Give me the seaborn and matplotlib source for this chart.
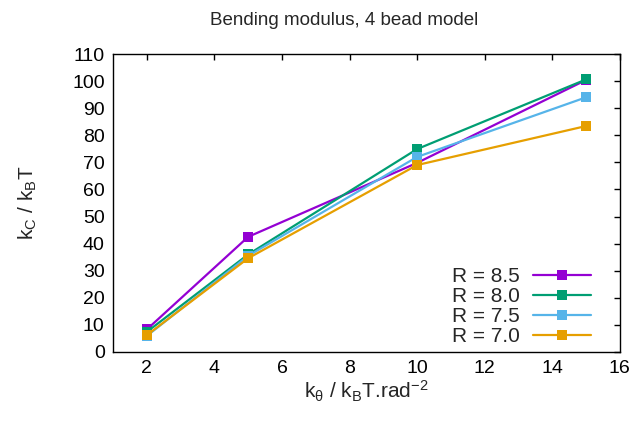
import matplotlib
matplotlib.use('Agg')
import matplotlib.pyplot as plt
import seaborn as sns
import pandas as pd

# Data
k_theta = [2, 5, 10, 15]
kc_85 = [8.3, 42.5, 69.8, 100.4]
kc_80 = [7.4, 36.0, 74.9, 100.6]
kc_75 = [5.9, 35.5, 72.0, 94.0]
kc_70 = [6.2, 34.6, 69.0, 83.4]
labels = ['R = 8.5', 'R = 8.0', 'R = 7.5', 'R = 7.0']
colors = ['#9400d3', '#009e73', '#56b4e9', '#e69f00']

df = pd.DataFrame({
    'k_theta': k_theta * 4,
    'kc': kc_85 + kc_80 + kc_75 + kc_70,
    'R': [lab for lab in labels for _ in k_theta],
})

sns.set_style('white')
plt.rcParams['font.family'] = ['Liberation Sans', 'DejaVu Sans']
plt.rcParams['mathtext.fontset'] = 'custom'
plt.rcParams['mathtext.rm'] = 'Liberation Sans'
plt.rcParams['mathtext.it'] = 'Liberation Sans'

fig = plt.figure(figsize=(6.35, 4.22), dpi=100)
ax = fig.add_axes([0.178, 0.166, 0.798, 0.706])

sns.lineplot(data=df, x='k_theta', y='kc', hue='R', hue_order=labels,
             palette=colors, marker='s', markersize=6.5, markeredgewidth=0,
             linewidth=1.6, ax=ax)

ax.set_xlim(1, 16)
ax.set_ylim(0, 110)
ax.set_xticks(range(2, 17, 2))
ax.set_yticks(range(0, 111, 10))
ax.tick_params(direction='in', top=True, right=True, length=4.5, width=1,
               labelsize=14, colors='black', pad=6)
for sp in ax.spines.values():
    sp.set_color('black')
    sp.set_linewidth(1)

ax.set_title('Bending modulus, 4 bead model', fontsize=13.5, pad=21, x=0.456)
ax.set_xlabel(r'k$_\theta$ / k$_\mathrm{B}$T.rad$^{-2}$', fontsize=15, labelpad=1)
ax.set_ylabel(r'k$_\mathrm{C}$ / k$_\mathrm{B}$T', fontsize=15, labelpad=24)

ax.legend(loc='lower right', bbox_to_anchor=(0.943, 0.02), frameon=False,
          markerfirst=False, fontsize=15, handlelength=2.8, handletextpad=0.6,
          labelspacing=0.05, borderpad=0, borderaxespad=0)

fig.savefig('out.png', dpi=100)
